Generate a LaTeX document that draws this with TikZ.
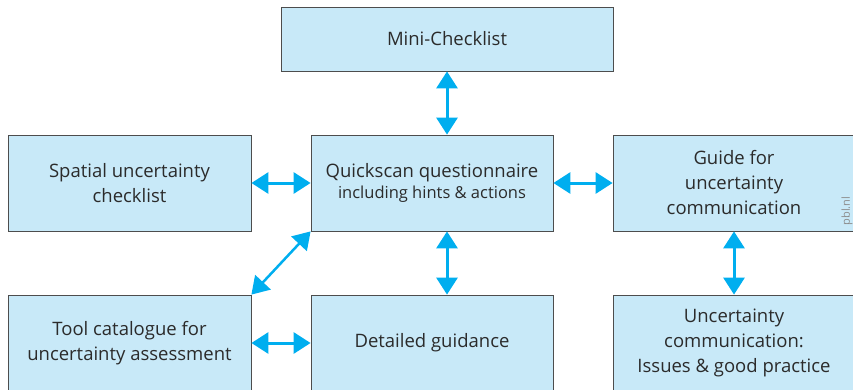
\documentclass[tikz,border=0pt]{standalone}
\usepackage{fontspec}
\setmainfont{Open Sans}
\usetikzlibrary{arrows.meta,calc}
\definecolor{boxfill}{HTML}{C8E9F8}
\definecolor{boxline}{HTML}{4D4D4D}
\definecolor{txt}{HTML}{2B2B2B}
\definecolor{link}{HTML}{00AEEF}
\begin{document}
\begin{tikzpicture}[x=1pt,y=1pt,
  box/.style={draw=boxline,line width=0.8pt,fill=boxfill,text=txt,
    align=center,font=\fontsize{18.5}{25}\selectfont,inner sep=0pt},
  link/.style={draw=link,line width=3pt,
    {Triangle[length=17pt,width=21pt]}-{Triangle[length=17pt,width=21pt]}}]
\useasboundingbox (0,0) rectangle (853,389);
\begin{scope}
\clip (0,0) rectangle (853,389);
\node[box,minimum width=332,minimum height=64] (mini) at (447,350) {Mini-Checklist};
\node[box,minimum width=243,minimum height=96] (spatial) at (129.5,206) {Spatial uncertainty\\checklist};
\node[box,minimum width=242,minimum height=96,font=\fontsize{18.5}{21}\selectfont] (quick) at (432,206)
  {Quickscan questionnaire\\{\fontsize{16.5}{21}\selectfont including hints \& actions}};
\node[box,minimum width=242,minimum height=96] (guide) at (734,206) {Guide for\\uncertainty\\communication};
\node[box,minimum width=243,minimum height=96] (tool) at (129.5,46) {Tool catalogue for\\uncertainty assessment};
\node[box,minimum width=242,minimum height=96] (detail) at (432,46) {Detailed guidance};
\node[box,minimum width=242,minimum height=96] (unc) at (734,46) {Uncertainty\\communication:\\Issues \& good practice};
\end{scope}
\node[rotate=90,text=black!45,font=\fontsize{11}{13}\selectfont,inner sep=0pt] (pbl) at (847,178) {pbl.nl};
\coordinate (qtop) at (mini.south |- quick.north);
\coordinate (qbot) at (mini.south |- quick.south);
\coordinate (dtop) at (mini.south |- detail.north);
\draw[link] (mini.south) -- (qtop);
\draw[link] (qbot) -- (dtop);
\draw[link] (spatial.east) -- (quick.west);
\draw[link] (quick.east) -- (guide.west);
\draw[link] (tool.east |- detail.center) -- (detail.west);
\draw[link] (guide.south) -- (unc.north);
\draw[link,line width=2.5pt] (quick.south west) -- (tool.north east);
\end{tikzpicture}
\end{document}
